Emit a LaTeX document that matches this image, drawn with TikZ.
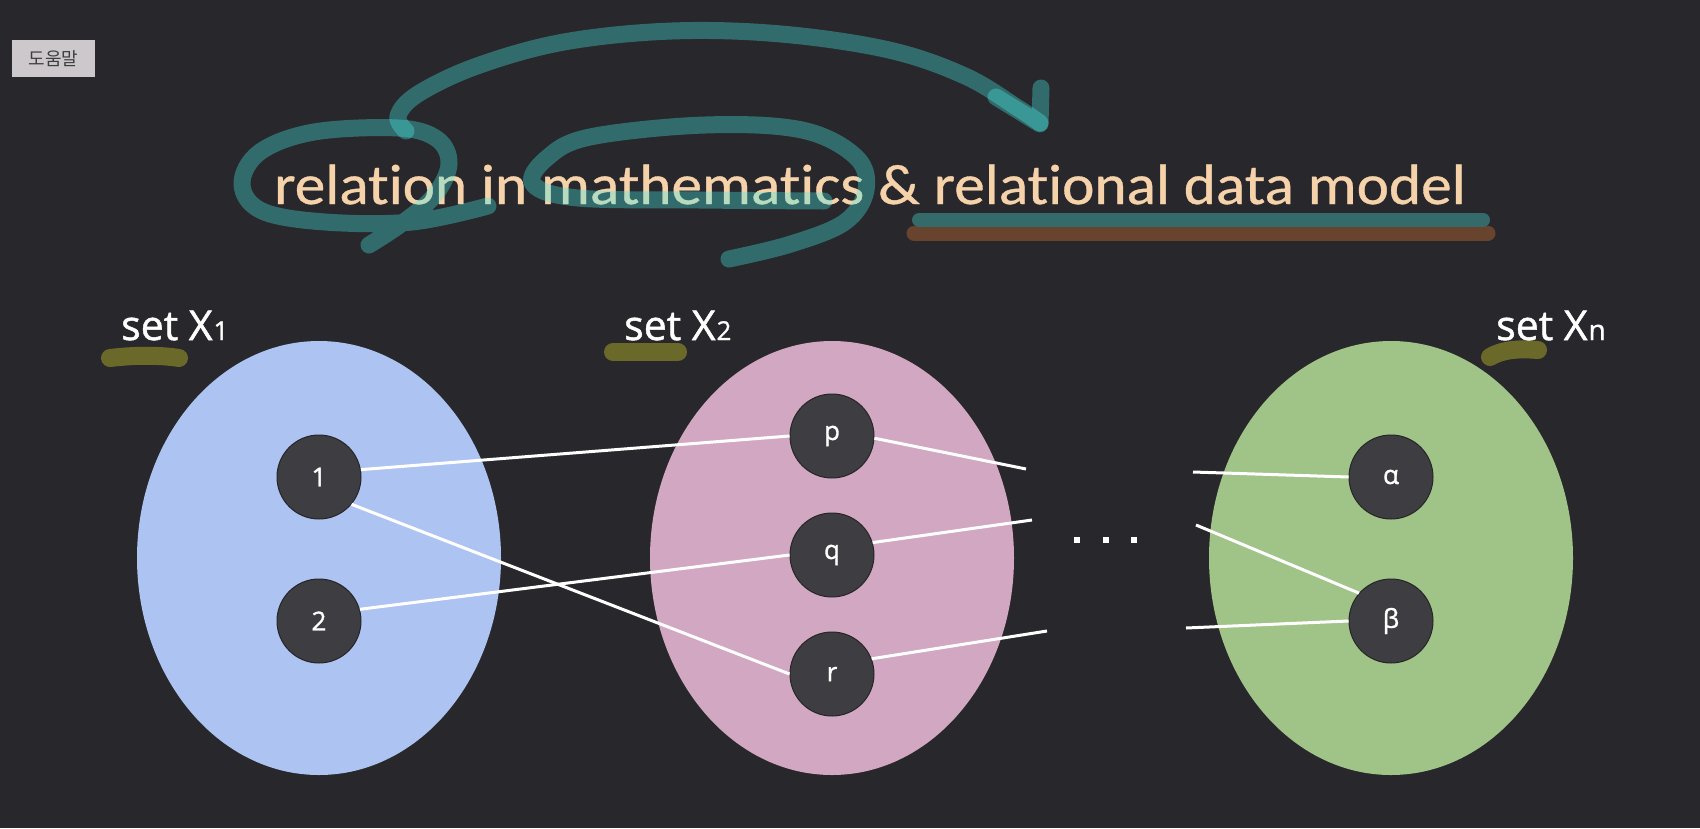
\documentclass[tikz,border=0pt]{standalone}
\usepackage{graphicx}
\usepackage{fontspec}
\setmainfont{Open Sans}
\newfontfamily\titlefont[Ligatures=NoCommon,FakeBold=0.6]{Carlito}
\newfontfamily\labelfont[FakeBold=1.2]{Open Sans}
\newfontfamily\krfont{Noto Sans CJK KR}
\usetikzlibrary{shapes.geometric}
\definecolor{bgc}{RGB}{40,39,43}
\definecolor{bluec}{RGB}{173,195,241}
\definecolor{pinkc}{RGB}{210,167,193}
\definecolor{greenc}{RGB}{160,195,135}
\definecolor{elemc}{RGB}{62,61,65}
\definecolor{elemedge}{RGB}{38,38,40}
\definecolor{peach}{RGB}{245,210,170}
\definecolor{tealpen}{RGB}{71,235,228}
\definecolor{tealbar}{RGB}{52,106,106}
\definecolor{brownbar}{RGB}{104,68,46}
\definecolor{olive}{RGB}{107,105,42}
\definecolor{btngray}{RGB}{204,200,204}
\definecolor{btntext}{RGB}{62,62,62}
\begin{document}
\begin{tikzpicture}[x=1pt,y=-1pt,
  setell/.style={ellipse, minimum width=364pt, minimum height=434pt, inner sep=0, draw=none},
  elem/.style={circle, minimum size=84pt, inner sep=0, fill=elemc, draw=elemedge, line width=1pt,
    text=white, font=\labelfont\fontsize{26}{26}\selectfont},
  rel/.style={draw=white, line width=3pt},
  setlabel/.style={anchor=base west, inner sep=0, text=white, font=\labelfont\fontsize{41}{41}\selectfont},
  pen/.style={draw=tealpen, draw opacity=0.35, line width=17pt, line cap=round, line join=round},
  hl/.style={draw=olive, line width=18pt, line cap=round},
  bar/.style={line width=15pt, line cap=round},
  dotsq/.style={rectangle, fill=white, minimum size=6pt, inner sep=0},
  btn/.style={rectangle, fill=btngray, minimum width=83pt, minimum height=37pt, inner sep=0,
    text=btntext, font=\krfont\fontsize{18}{18}\selectfont}]
\fill[bgc] (0,0) rectangle (1700,828);
\useasboundingbox (0,0) rectangle (1700,828);

% help button
\node[btn] (help) at (53.5,58.5) {도움말};

% title and underlines
\draw[bar, draw=brownbar] (914,233) -- (1488,233);
\draw[bar, draw=tealbar, line width=14pt] (919,220) -- (1483,220);
\node[anchor=base west, inner sep=0, text=peach, font=\titlefont\fontsize{57}{60}\selectfont] (title) at (274,204) {\scalebox{1.075}[1.0]{relation in mathematics \& relational data model}};

% teal hand-drawn strokes
\draw[pen] plot[smooth, tension=0.6] coordinates {(488,206) (412,222) (325,222) (262,211) (242,184) (260,152) (314,132) (398,128) (437,139) (449,164) (434,196) (401,224) (369,245)};
\draw[pen] plot[smooth, tension=0.6] coordinates {(824,201) (700,200) (578,198) (533,184) (547,158) (590,137) (705,125) (802,130) (856,157) (866,190) (845,222) (791,244) (729,259)};
\draw[pen] plot[smooth, tension=0.6] coordinates {(406,131) (398,116) (418,94) (477,66) (564,42) (672,31) (781,34) (889,50) (965,76) (1018,108) (1040,123)};
\draw[pen] (996,97) -- (1040,124) -- (1041,88);

% sets
\node[setell, fill=bluec] (X1) at (319,558) {};
\node[setell, fill=pinkc] (X2) at (832,558) {};
\node[setell, fill=greenc] (Xn) at (1391,558) {};

% set labels
\draw[hl] (110,358) .. controls (135,355) and (160,355) .. (179,358);
\draw[hl] (613,352) -- (678,352);
\draw[hl] (1490,357) .. controls (1505,348) and (1525,349) .. (1538,350);
\node[setlabel] (lx1) at (121,340) {set X\kern1pt{\fontsize{26}{26}\selectfont 1}};
\node[setlabel] (lx2) at (624,340) {set X\kern1pt{\fontsize{26}{26}\selectfont 2}};
\node[setlabel] (lxn) at (1496,340) {set X\kern1pt{\fontsize{28}{28}\selectfont n}};

% elements
\node[elem] (e1) at (319,477) {1};
\node[elem] (e2) at (319,621) {2};
\node[elem] (p) at (832,436) {p};
\node[elem] (q) at (832,555) {q};
\node[elem] (r) at (832,674) {r};
\node[elem] (a) at (1391,477) {α};
\node[elem] (b) at (1391,621) {β};

% free ends
\coordinate (pe) at (1026,469);
\coordinate (qe) at (1032,520);
\coordinate (re) at (1047,631);
\coordinate (ae) at (1193,472);
\coordinate (be1) at (1196,525);
\coordinate (be2) at (1186,628);

% relations
\draw[rel] (e1.10) -- (p.180);
\draw[rel] (e1.-40) -- (r.180);
\draw[rel] (e2.16) -- (q.180);
\draw[rel] (p.-3) -- (pe);
\draw[rel] (q.17) -- (qe);
\draw[rel] (r.21) -- (re);
\draw[rel] (ae) -- (a.180);
\draw[rel] (be1) -- (b.139);
\draw[rel] (be2) -- (b.180);

% ellipsis dots
\node[dotsq] (d1) at (1077,540) {};
\node[dotsq] (d2) at (1106,540) {};
\node[dotsq] (d3) at (1134,540) {};
\end{tikzpicture}
\end{document}
